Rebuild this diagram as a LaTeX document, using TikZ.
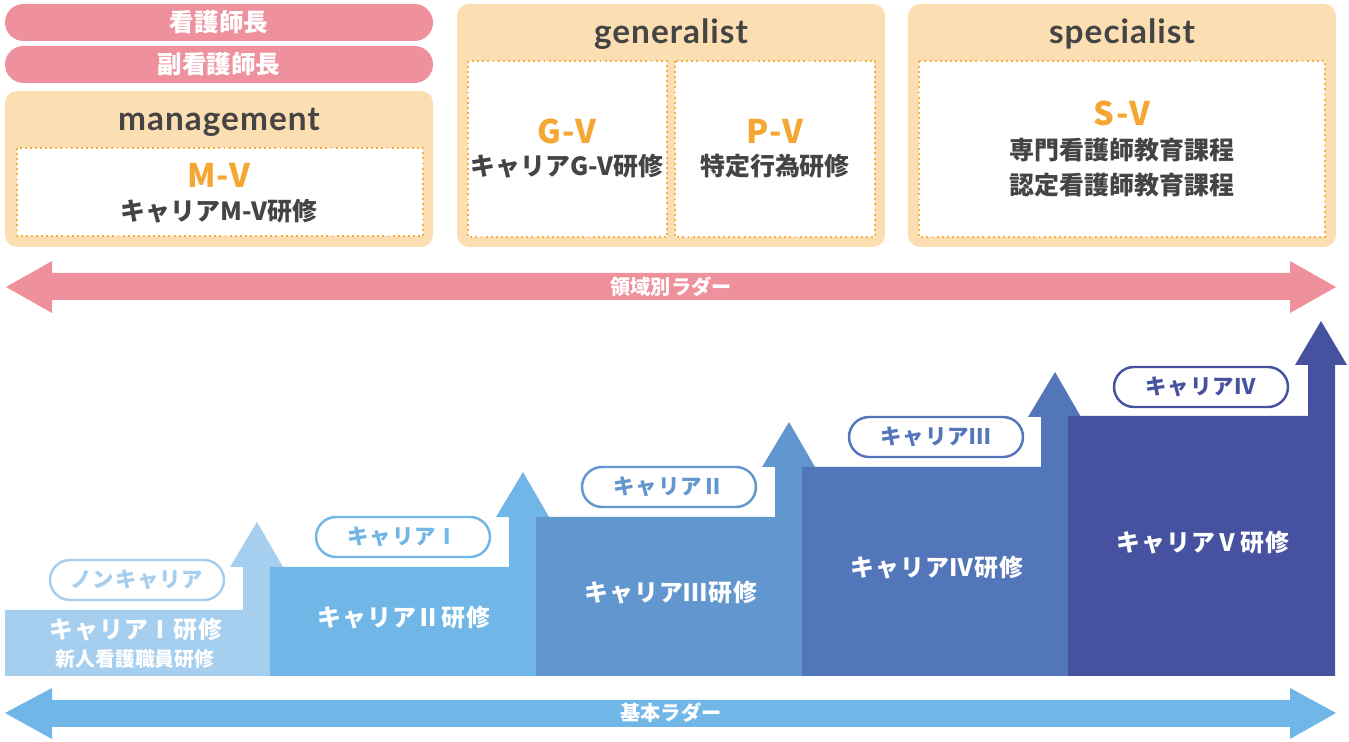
\documentclass[tikz,border=0pt]{standalone}
\usepackage{fontspec}
\newfontfamily\jp{Noto Sans CJK JP}
\newfontfamily\jpsp{Noto Sans CJK JP}[LetterSpace=4]
\newfontfamily\lat{Lato}[LetterSpace=3]
\definecolor{pinkc}{HTML}{EF919D}
\definecolor{boxc}{HTML}{FCDEB3}
\definecolor{dotc}{HTML}{F6AE45}
\definecolor{orc}{HTML}{F5A733}
\definecolor{txt}{HTML}{444444}
\definecolor{ca}{HTML}{A5CEEF}
\definecolor{cb}{HTML}{70B6E6}
\definecolor{cc}{HTML}{6196CF}
\definecolor{cd}{HTML}{5375BA}
\definecolor{ce}{HTML}{46529F}
\begin{document}
\begin{tikzpicture}[x=0.02cm,y=-0.02cm,
  toptext/.style={font=\jp\bfseries\fontsize{14}{16}\selectfont, text=white, inner sep=0pt},
  titletext/.style={font=\lat\bfseries\fontsize{19}{22}\selectfont, text=txt, inner sep=0pt},
  codetext/.style={font=\jpsp\bfseries\fontsize{18.5}{21}\selectfont, text=orc, inner sep=0pt},
  coursetext/.style={font=\jp\bfseries\fontsize{14.2}{16}\selectfont, text=txt, inner sep=0pt},
  bartext/.style={font=\jpsp\bfseries\fontsize{13.6}{15}\selectfont, text=white, inner sep=0pt},
  subbartext/.style={font=\jp\bfseries\fontsize{11.3}{13}\selectfont, text=white, inner sep=0pt},
  levelpill/.style={draw=#1, text=#1, fill=white, line width=1.4pt, rounded corners=0.4cm,
    minimum width=3.48cm, minimum height=0.8cm, inner sep=0pt,
    font=\jpsp\bfseries\fontsize{12.2}{14}\selectfont},
  laddertext/.style={font=\jp\bfseries\fontsize{11.5}{13}\selectfont, text=white, inner sep=0pt},
  outerbox/.style={fill=boxc, rounded corners=0.24cm},
  innerbox/.style={draw=dotc, fill=white, line width=1.1pt, dash pattern=on 1.1pt off 1.8pt},
  toppillbox/.style={fill=pinkc, rounded corners=0.37cm}
]
\useasboundingbox (0,0) rectangle (1349,742);

% ---------- top: management column ----------
\fill[toppillbox] (5,4) rectangle (433,41);
\node[toptext] (chief) at (219,22.5) {看護師長};
\fill[toppillbox] (5,46) rectangle (433,83);
\node[toptext] (subchief) at (219,64.5) {副看護師長};

\fill[outerbox] (5,91) rectangle (433,247);
\node[titletext] (mgmt) at (219,122) {management};
\draw[innerbox] (17,148) rectangle (423,236);
\node[codetext] (mv) at (219,175) {M-V};
\node[coursetext] (mvc) at (219,211) {キャリアM-V研修};

% ---------- generalist ----------
\fill[outerbox] (457,4) rectangle (885,247);
\node[titletext] (gen) at (671,34) {generalist};
\draw[innerbox] (468,61) rectangle (667,237);
\draw[innerbox] (675,61) rectangle (875,237);
\node[codetext] (gv) at (567,131) {G-V};
\node[coursetext] (gvc) at (567,166) {キャリアG-V研修};
\node[codetext] (pv) at (775,131) {P-V};
\node[coursetext] (pvc) at (775,166) {特定行為研修};

% ---------- specialist ----------
\fill[outerbox] (908,4) rectangle (1336,247);
\node[titletext] (spec) at (1122,34) {specialist};
\draw[innerbox] (919,61) rectangle (1325,237);
\node[codetext] (sv) at (1122,113) {S-V};
\node[coursetext] (svc1) at (1122,150) {専門看護師教育課程};
\node[coursetext] (svc2) at (1122,185) {認定看護師教育課程};

% ---------- field ladder arrow ----------
\fill[pinkc] (6,287) -- (52,261) -- (52,273) -- (1290,273) -- (1290,261) -- (1336,287)
  -- (1290,313) -- (1290,300) -- (52,300) -- (52,313) -- cycle;
\node[laddertext] (fieldladder) at (671,287) {領域別ラダー};

% ---------- steps ----------
\fill[ca] (5,676) -- (5,610) -- (243,610) -- (243,567) -- (230,567) -- (257,522) -- (283,567) -- (270,567) -- (270,676) -- cycle;
\fill[cb] (270,676) -- (270,567) -- (509,567) -- (509,517) -- (496,517) -- (523,472) -- (549,517) -- (536,517) -- (536,676) -- cycle;
\fill[cc] (536,676) -- (536,517) -- (775,517) -- (775,467) -- (762,467) -- (789,422) -- (815,467) -- (802,467) -- (802,676) -- cycle;
\fill[cd] (802,676) -- (802,467) -- (1041,467) -- (1041,417) -- (1028,417) -- (1055,372) -- (1081,417) -- (1068,417) -- (1068,676) -- cycle;
\fill[ce] (1068,676) -- (1068,416) -- (1308,416) -- (1308,365) -- (1295,365) -- (1321,321) -- (1347,365) -- (1335,365) -- (1335,676) -- cycle;

\node[bartext] (s1) at (136,630) {キャリアⅠ研修};
\node[subbartext] (s1b) at (135,659) {新人看護職員研修};
\node[bartext] (s2) at (404,618) {キャリアⅡ研修};
\node[bartext] (s3) at (671,593) {キャリアⅢ研修};
\node[bartext] (s4) at (937,568) {キャリアⅣ研修};
\node[bartext] (s5) at (1203,543) {キャリアⅤ研修};

\node[levelpill=ca] (p0) at (137,580) {ノンキャリア};
\node[levelpill=cb] (p1) at (403,537) {キャリアⅠ};
\node[levelpill=cc] (p2) at (669,487) {キャリアⅡ};
\node[levelpill=cd] (p3) at (936,437) {キャリアⅢ};
\node[levelpill=ce] (p4) at (1201,387) {キャリアⅣ};

% ---------- basic ladder arrow ----------
\fill[cb] (5,713) -- (52,688) -- (52,700) -- (1290,700) -- (1290,688) -- (1336,713)
  -- (1290,739) -- (1290,727) -- (52,727) -- (52,739) -- cycle;
\node[laddertext] (basicladder) at (671,713) {基本ラダー};
\end{tikzpicture}
\end{document}
